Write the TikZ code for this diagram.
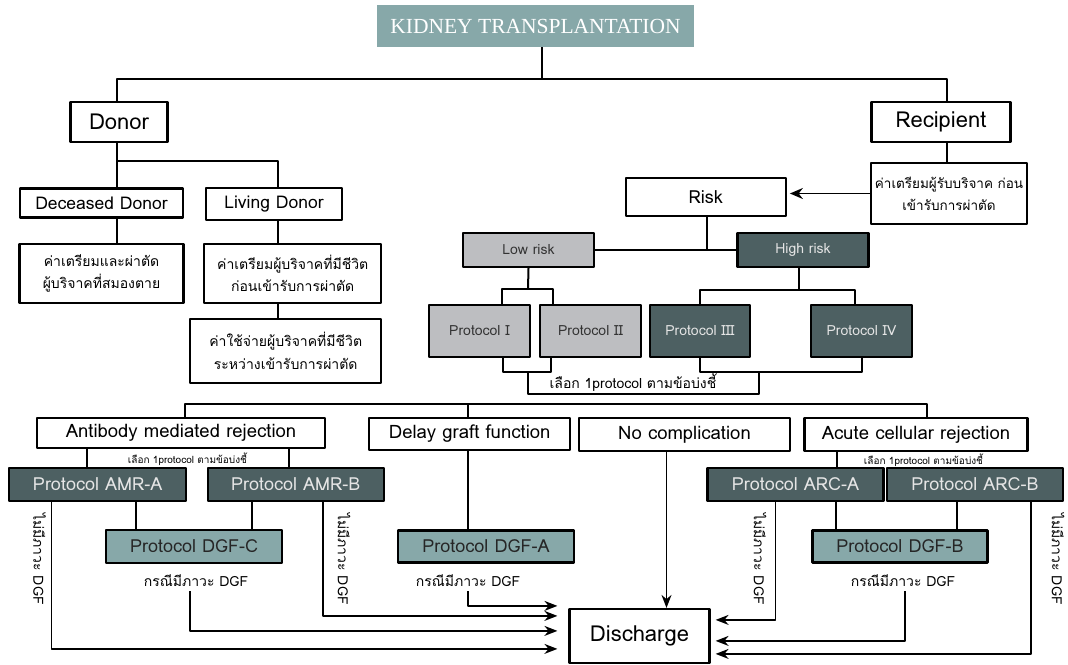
\documentclass[tikz,border=0pt]{standalone}
\usepackage{fontspec}
\setmainfont{Loma}[Script=Thai]
\newfontfamily\titlefont{Liberation Serif}
\usetikzlibrary{arrows.meta}
\definecolor{kidteal}{HTML}{87A8A9}
\definecolor{kiddark}{HTML}{4D6062}
\definecolor{kidgray}{HTML}{BDBEC1}
\newcommand{\fs}[1]{\fontsize{#1}{#1}\selectfont}
\tikzset{
  box/.style={draw, line width=2.2pt, inner sep=0pt, align=center, fill=white},
  wh/.style n args={2}{minimum width=#1pt, minimum height=#2pt},
  darkbox/.style={box, fill=kiddark, text=white!90!black},
  lightbox/.style={box, fill=kidgray, text=black!80},
  dgfbox/.style={box, fill=kidteal, text=black!85},
  link/.style={line width=2pt},
  arr/.style={line width=1.5pt, -{Stealth[length=13pt,width=10pt]}},
  note/.style={inner sep=0pt, font=\fs{14}},
  tiny/.style={inner sep=0pt, font=\fs{10}},
  side/.style={inner sep=0pt, rotate=-90, font=\fs{14}},
}
\begin{document}
\begin{tikzpicture}[x=1pt, y=-1pt, line join=round]
\useasboundingbox (0,0) rectangle (1068,664);
% top
\node[fill=kidteal, wh={317}{42}, text=white, font=\titlefont\fs{21.5}] (title) at (535.5,26) {KIDNEY TRANSPLANTATION};
\node[box, wh={97}{40}, font=\fs{22}] (donor) at (119,122) {Donor};
\node[box, wh={139}{40}, font=\fs{22}] (recip) at (941,122) {Recipient};
% donor side
\node[box, wh={163}{29}, font=\fs{17.5}] (dead) at (101.5,203) {Deceased Donor};
\node[box, wh={136}{32}, font=\fs{17.5}] (living) at (274,204) {Living Donor};
\node[box, wh={164}{59}, font=\fs{14}] (dcost) at (101.5,273.5) {ค่าเตรียมและผ่าตัด\\[6pt]ผู้บริจาคที่สมองตาย};
\node[box, wh={177}{59}, font=\fs{14}] (lcost) at (292.7,273.5) {ค่าเตรียมผู้บริจาคที่มีชีวิต\\[6pt]ก่อนเข้ารับการผ่าตัด};
\node[box, wh={191}{64}, font=\fs{14}] (lcare) at (285.7,351) {ค่าใช้จ่ายผู้บริจาคที่มีชีวิต\\[6pt]ระหว่างเข้ารับการผ่าตัด};
% recipient side
\node[box, wh={156}{61}, font=\fs{13.5}] (rcost) at (949,193.5) {ค่าเตรียมผู้รับบริจาค ก่อน\\[6pt]เข้ารับการผ่าตัด};
\node[box, wh={160}{38}, font=\fs{18}] (risk) at (705.8,197) {Risk};
\node[lightbox, wh={131}{34}, font=\fs{14}] (low) at (528.5,250) {Low risk};
\node[darkbox, wh={131}{34}, font=\fs{14}] (high) at (803,250) {High risk};
\node[lightbox, wh={101}{52}, font=\fs{14}] (p1) at (479.5,331) {Protocol I};
\node[lightbox, wh={101}{52}, font=\fs{14}] (p2) at (590.5,331) {Protocol II};
\node[darkbox, wh={100}{52}, font=\fs{14}] (p3) at (700,331) {Protocol III};
\node[darkbox, wh={101}{52}, font=\fs{14}] (p4) at (861.5,331) {Protocol IV};
\node[note] (pick) at (633,383) {เลือก 1protocol ตามข้อบ่งชี้};
% outcomes
\node[box, wh={288}{30}, font=\fs{18.5}] (amr) at (181,433) {Antibody mediated rejection};
\node[box, wh={201}{32}, font=\fs{18.5}] (dgf) at (469.7,434) {Delay graft function};
\node[box, wh={211}{33}, font=\fs{18.5}] (nocomp) at (684.5,434.5) {No complication};
\node[box, wh={223}{33}, font=\fs{18.5}] (acr) at (916,434.5) {Acute cellular rejection};
\node[tiny] (pickamr) at (187.5,459) {เลือก 1protocol ตามข้อบ่งชี้};
\node[tiny] (pickacr) at (923.5,460) {เลือก 1protocol ตามข้อบ่งชี้};
\node[darkbox, wh={177}{33}, font=\fs{18}] (amra) at (97.7,484.5) {Protocol AMR-A};
\node[darkbox, wh={176}{33}, font=\fs{18}] (amrb) at (295.8,484.5) {Protocol AMR-B};
\node[darkbox, wh={176}{33}, font=\fs{18}] (arca) at (795.5,484.5) {Protocol ARC-A};
\node[darkbox, wh={176}{33}, font=\fs{18}] (arcb) at (975,484.5) {Protocol ARC-B};
\node[dgfbox, wh={176}{33}, font=\fs{18}] (dgfc) at (194.2,546.5) {Protocol DGF-C};
\node[dgfbox, wh={176}{32}, font=\fs{18}] (dgfa) at (486,546.5) {Protocol DGF-A};
\node[dgfbox, wh={175}{32}, font=\fs{18}] (dgfb) at (900,546.5) {Protocol DGF-B};
\node[note] (casec) at (196,581) {กรณีมีภาวะ DGF};
\node[note] (casea) at (468,581) {กรณีมีภาวะ DGF};
\node[note] (caseb) at (903,581) {กรณีมีภาวะ DGF};
\node[side] (noa) at (39.6,559) {ไม่มีภาวะ DGF};
\node[side] (nob) at (344,559) {ไม่มีภาวะ DGF};
\node[side] (noc) at (760,559) {ไม่มีภาวะ DGF};
\node[side] (nod) at (1058,559) {ไม่มีภาวะ DGF};
\node[box, wh={140}{54}, font=\fs{22}] (discharge) at (639.5,636) {Discharge};
% tree lines
\coordinate (split) at (542,79);
\coordinate (dsplit) at (117,161);
\coordinate (lsplit) at (528,289);
\coordinate (hsplit) at (799,290);
\coordinate (cL) at (185,404);
\coordinate (cR) at (927,404);
\draw[link] (title.south -| split) -- (split);
\draw[link] ([xshift=-2pt]donor.north) |- (split) -| ([xshift=6pt]recip.north);
\draw[link] ([xshift=-2pt]donor.south) -- (dsplit) -- (dsplit |- dead.north);
\draw[link] (dsplit) -| ([xshift=4pt]living.north);
\draw[link] (dsplit |- dead.south) -- (dsplit |- dcost.north);
\draw[link] ([xshift=4pt]living.south) -- ([xshift=4pt]living.south |- lcost.north);
\draw[link] ([xshift=4pt]living.south |- lcost.south) -- ([xshift=4pt]living.south |- lcare.north);
\draw[link] ([xshift=6pt]recip.south) -- ([xshift=6pt]recip.south |- rcost.north);
\draw[line width=1.4pt, -{Stealth[length=13pt,width=11pt]}] (rcost.west) -- ([xshift=3pt]rcost.west -| risk.east);
\draw[link] ([xshift=1pt]risk.south) -- ([xshift=1pt]risk.south |- low.east);
\draw[link] (low.east) -- (high.west);
\draw[link] (low.south) -- (lsplit);
\draw[link] ([xshift=22pt]p1.north) |- (lsplit) -| ([xshift=-38pt]p2.north);
\draw[link] ([xshift=-4pt]high.south) -- (hsplit);
\draw[link] (p3.north) |- (hsplit) -| ([xshift=-7pt]p4.north);
\draw[link] ([xshift=23pt]p1.south) -- ++(0,14) coordinate (lbot) -| ([xshift=-40pt]p2.south);
\draw[link] (p3.south) -- ++(0,14) coordinate (hbot) -| (p4.south);
\draw[link] (lbot -| lsplit) -- ++(0,22) -| ([xshift=59pt]hbot);
% outcome lines
\draw[link] (cL |- amr.north) -- (cL) -- (cR) -- (cR |- acr.north);
\draw[link] (dgf.north -| 468,0) -- (cL -| 468,0);
\draw[link] ([xshift=-11pt]amra.north) -- ([xshift=-11pt]amra.north |- amr.south);
\draw[link] ([xshift=-7pt]amrb.north) -- ([xshift=-7pt]amrb.north |- amr.south);
\draw[link] ([xshift=41pt]arca.north) -- ([xshift=41pt]arca.north |- acr.south);
\draw[link] ([xshift=-58pt]dgfc.north) -- ([xshift=-58pt]dgfc.north |- amra.south);
\draw[link] ([xshift=58pt]dgfc.north) -- ([xshift=58pt]dgfc.north |- amrb.south);
\draw[link] ([xshift=-64pt]dgfb.north) -- ([xshift=-64pt]dgfb.north |- arca.south);
\draw[link] ([xshift=57pt]dgfb.north) -- ([xshift=57pt]dgfb.north |- arcb.south);
\draw[link] (dgf.south -| 468,0) -- (dgfa.north -| 468,0);
% arrows to discharge
\draw[arr] ([xshift=-18pt]nocomp.south) -- ([xshift=-18pt]nocomp.south |- discharge.north);
\draw[arr] ([yshift=-4pt]casea.south) |- ([xshift=-11pt,yshift=2pt]discharge.north west);
\draw[arr] ([xshift=27pt]amrb.south) |- ([xshift=-11pt,yshift=-8pt]discharge.north west);
\draw[arr] ([xshift=-6pt,yshift=-4pt]casec.south) |- ([xshift=-11pt,yshift=-23pt]discharge.north west);
\draw[arr] ([xshift=-46pt]amra.south) |- ([xshift=-11pt,yshift=-41pt]discharge.north west);
\draw[arr] ([xshift=-20pt]arca.south) |- ([xshift=5pt,yshift=-12pt]discharge.north east);
\draw[arr] ([xshift=2pt,yshift=-4pt]caseb.south) |- ([xshift=5pt,yshift=-33pt]discharge.north east);
\draw[arr] ([xshift=56pt]arcb.south) |- ([xshift=5pt,yshift=-46pt]discharge.north east);
\end{tikzpicture}
\end{document}
